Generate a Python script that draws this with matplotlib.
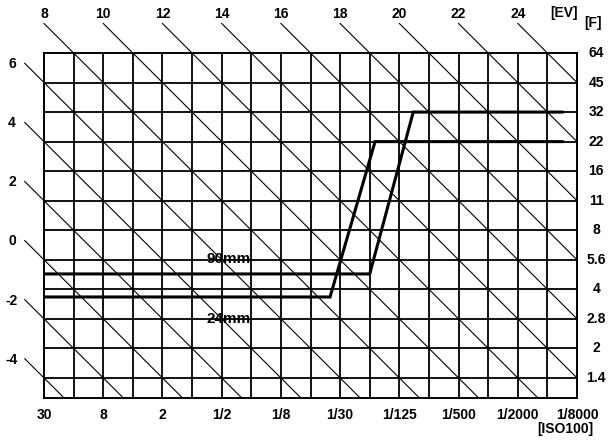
import numpy as np
import matplotlib
matplotlib.use("Agg")
import matplotlib.pyplot as plt

plt.rcParams['font.family'] = ['Liberation Sans', 'DejaVu Sans']

# ---- data ----
shutter_labels = ["30", "8", "2", "1/2", "1/8", "1/30", "1/125", "1/500", "1/2000", "1/8000"]
shutter_tv = [-5, -3, -1, 1, 3, 5, 7, 9, 11, 13]
fnum_labels = ["64", "45", "32", "22", "16", "11", "8", "5.6", "4", "2.8", "2", "1.4"]
fnum_av = [12, 11, 10, 9, 8, 7, 6, 5, 4, 3, 2, 1]
ev_top = [8, 10, 12, 14, 16, 18, 20, 22, 24]
ev_left = [6, 4, 2, 0, -2, -4]
ev_lines = list(range(-4, 25, 2))

prog_90_tv = [-5, 6.0, 7.47, 12.5]
prog_90_av = [4.52, 4.52, 10.0, 10.0]
prog_24_tv = [-5, 4.66, 6.18, 12.5]
prog_24_av = [3.74, 3.74, 9.0, 9.0]

TV_MIN, TV_MAX = -5, 13
AV_MIN, AV_MAX = 0.32, 12

W, H = 609, 445
fig = plt.figure(figsize=(W / 100, H / 100), dpi=100)
ax = fig.add_axes([44 / W, (H - 398) / H, (577 - 44) / W, (398 - 53) / H])
ax.set_xlim(TV_MIN, TV_MAX)
ax.set_ylim(AV_MIN, AV_MAX)
ax.set_xticks([])
ax.set_yticks([])
for s in ax.spines.values():
    s.set_linewidth(1.4)
    s.set_color("black")

# grid
for tv in range(TV_MIN + 1, TV_MAX):
    ax.axvline(tv, color="black", lw=1.3, zorder=1)
for av in range(1, AV_MAX):
    ax.axhline(av, color="black", lw=1.3, zorder=1)

# diagonal EV lines
for ev in ev_lines:
    tv_top = ev - AV_MAX
    if tv_top >= TV_MIN:
        x0, y0 = tv_top, AV_MAX
        ext = 1.0
    else:
        x0, y0 = TV_MIN, ev - TV_MIN
        ext = 0.65
    tv_bot = ev - AV_MIN
    if tv_bot <= TV_MAX:
        x1, y1 = tv_bot, AV_MIN
    else:
        x1, y1 = TV_MAX, ev - TV_MAX
    ax.plot([x0 - ext, x1], [y0 + ext, y1], color="black", lw=0.8,
            clip_on=False, zorder=2)

# program lines
ax.plot(prog_90_tv, prog_90_av, color="black", lw=2.2, zorder=3, solid_joinstyle="miter")
ax.plot(prog_24_tv, prog_24_av, color="black", lw=2.2, zorder=3, solid_joinstyle="miter")

fs = 10
tkw = dict(fontsize=fs, fontweight="bold", ha="center", va="center", clip_on=False)
mkw = dict(tkw, fontsize=11)
ax.text(1.22, 5.03, "90mm", **mkw)
ax.text(1.22, 3.0, "24mm", **mkw)

for ev in ev_top:
    ax.text(ev - AV_MAX - 1, AV_MAX + 1.32, str(ev), **tkw)
for ev in ev_left:
    ax.text(-6.08, ev - TV_MIN + 0.62, str(ev), **tkw)
for lab, tv in zip(shutter_labels, shutter_tv):
    ax.text(tv, -0.25, lab, **tkw)
for lab, av in zip(fnum_labels, fnum_av):
    ax.text(13.65, av, lab, **tkw)

ax.text(12.55, AV_MAX + 1.35, "[EV]", **tkw)
ax.text(13.55, AV_MAX + 1.0, "[F]", **tkw)
fig.text(565 / W, 1 - 429 / H, "[ISO100]", fontsize=fs, fontweight="bold",
         ha="center", va="center")

fig.savefig("out.png", dpi=100)
